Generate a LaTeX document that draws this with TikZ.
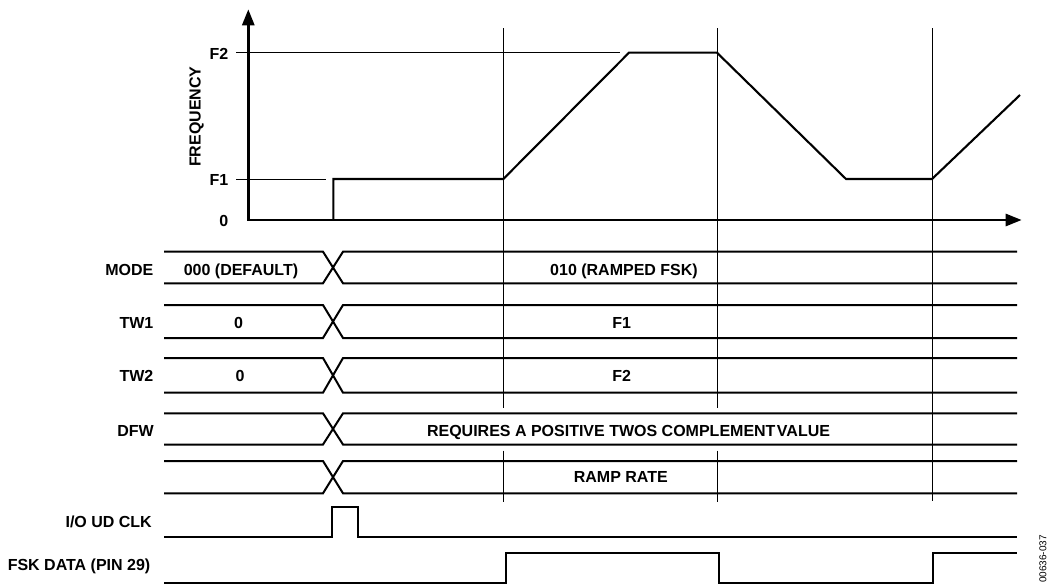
\documentclass[tikz,border=0pt]{standalone}
\usepackage{fontspec}
\setmainfont{Liberation Sans}
\usetikzlibrary{arrows.meta}
\begin{document}
\begin{tikzpicture}[x=1pt,y=-1pt,
  lbl/.style={font=\fontsize{16}{19}\selectfont\bfseries, inner sep=0pt, text height=11.4pt, text depth=0pt},
  bus/.style={line width=2pt},
  thinline/.style={line width=1pt},
  sig/.style={line width=2.1pt},
  axisline/.style={line width=2.7pt, {Triangle[length=16pt,width=12pt]}-{Triangle[length=16pt,width=12pt]}}]
\useasboundingbox (0,0) rectangle (1048,588);

% ---------- frequency plot ----------
\coordinate (ytip) at (248.3,9.3);
\coordinate (orig) at (248.3,220);
\coordinate (xtip) at (1021.7,220);
\draw[axisline] (ytip) -- (orig) -- (xtip);

\node[lbl, anchor=east] (lF2) at (228.5,54) {F2};
\node[lbl, anchor=east] (lF1) at (228.5,179.5) {F1};
\node[lbl, anchor=east] (l0) at (228.5,220.5) {0};
\node[lbl, rotate=90] (lfreq) at (195,116.7) {FREQUENCY};

\coordinate (f2a) at (236,52.7);
\coordinate (f2b) at (620,52.7);
\coordinate (f1a) at (236,179);
\coordinate (f1b) at (325.7,179);
\draw[thinline] (f2a) -- (f2b);
\draw[thinline] (f1a) -- (f1b);

% vertical reference lines
\coordinate (va1) at (503.3,28.3);  \coordinate (vb1) at (503.3,408.3);
\coordinate (vc1) at (503.3,450.7); \coordinate (vd1) at (503.3,501.7);
\coordinate (va2) at (717,28.3);    \coordinate (vb2) at (717,408.3);
\coordinate (vc2) at (717,450.7);   \coordinate (vd2) at (717,501.7);
\coordinate (va3) at (932,28.3);    \coordinate (vd3) at (932,500.5);
\draw[thinline] (va1) -- (vb1) (vc1) -- (vd1);
\draw[thinline] (va2) -- (vb2) (vc2) -- (vd2);
\draw[thinline] (va3) -- (vd3);

% frequency curve
\coordinate (c0) at (333.3,220);
\coordinate (c1) at (333.3,179);
\coordinate (c2) at (503.3,179);
\coordinate (c3) at (629,52.7);
\coordinate (c4) at (717,52.7);
\coordinate (c5) at (846,179);
\coordinate (c6) at (932,179);
\coordinate (c7) at (1020,95);
\draw[sig] (c0) -- (c1) -- (c2) -- (c3) -- (c4) -- (c5) -- (c6) -- (c7);

% ---------- buses ----------
\foreach \t/\b in {251.7/283.3, 305/338, 358/392.7, 413.3/444.5, 461/493.3}{
  \draw[bus] (164,\t) -- (323,\t) -- (343,\b) -- (1017,\b);
  \draw[bus] (164,\b) -- (323,\b) -- (343,\t) -- (1017,\t);
}

\node[lbl, anchor=east] (nMODE) at (153.5,270) {MODE};
\node[lbl, anchor=east] (nTW1) at (153.5,322.5) {TW1};
\node[lbl, anchor=east] (nTW2) at (153.5,376) {TW2};
\node[lbl, anchor=east] (nDFW) at (154,430.5) {DFW};
\node[lbl, anchor=east] (nIO) at (152,521.7) {I/O UD CLK};
\node[lbl, anchor=east] (nFSK) at (150.5,565) {FSK DATA (PIN 29)};

\node[lbl] (vMODEa) at (241,270) {000 (DEFAULT)};
\node[lbl] (vMODEb) at (624,270) {010 (RAMPED FSK)};
\node[lbl] (vTW1a) at (238.5,322.5) {0};
\node[lbl] (vTW1b) at (621.7,322.5) {F1};
\node[lbl] (vTW2a) at (240,376) {0};
\node[lbl] (vTW2b) at (621.7,376) {F2};
\node[lbl] (vDFW) at (628.5,430.5) {REQUIRES A POSITIVE TWOS COMPLEMENT\kern-3pt\ VALUE};
\node[lbl] (vRAMP) at (620.8,476.7) {RAMP RATE};

% ---------- I/O UD CLK ----------
\coordinate (io0) at (164,537.3);
\coordinate (io1) at (331.7,537.3);
\coordinate (io2) at (331.7,506.7);
\coordinate (io3) at (357.7,506.7);
\coordinate (io4) at (357.7,537.3);
\coordinate (io5) at (1017,537.3);
\draw[bus] (io0) -- (io1) -- (io2) -- (io3) -- (io4) -- (io5);

% ---------- FSK DATA ----------
\coordinate (fs0) at (164,583);
\coordinate (fs1) at (505.7,583);
\coordinate (fs2) at (505.7,552.7);
\coordinate (fs3) at (719,552.7);
\coordinate (fs4) at (719,583);
\coordinate (fs5) at (933,583);
\coordinate (fs6) at (933,552.5);
\coordinate (fs7) at (1017,552.5);
\draw[bus] (fs0) -- (fs1) -- (fs2) -- (fs3) -- (fs4) -- (fs5) -- (fs6) -- (fs7);

\node[font=\fontsize{10}{12}\selectfont, rotate=90, inner sep=0pt] (code) at (1043,559) {00636-037};
\end{tikzpicture}
\end{document}
